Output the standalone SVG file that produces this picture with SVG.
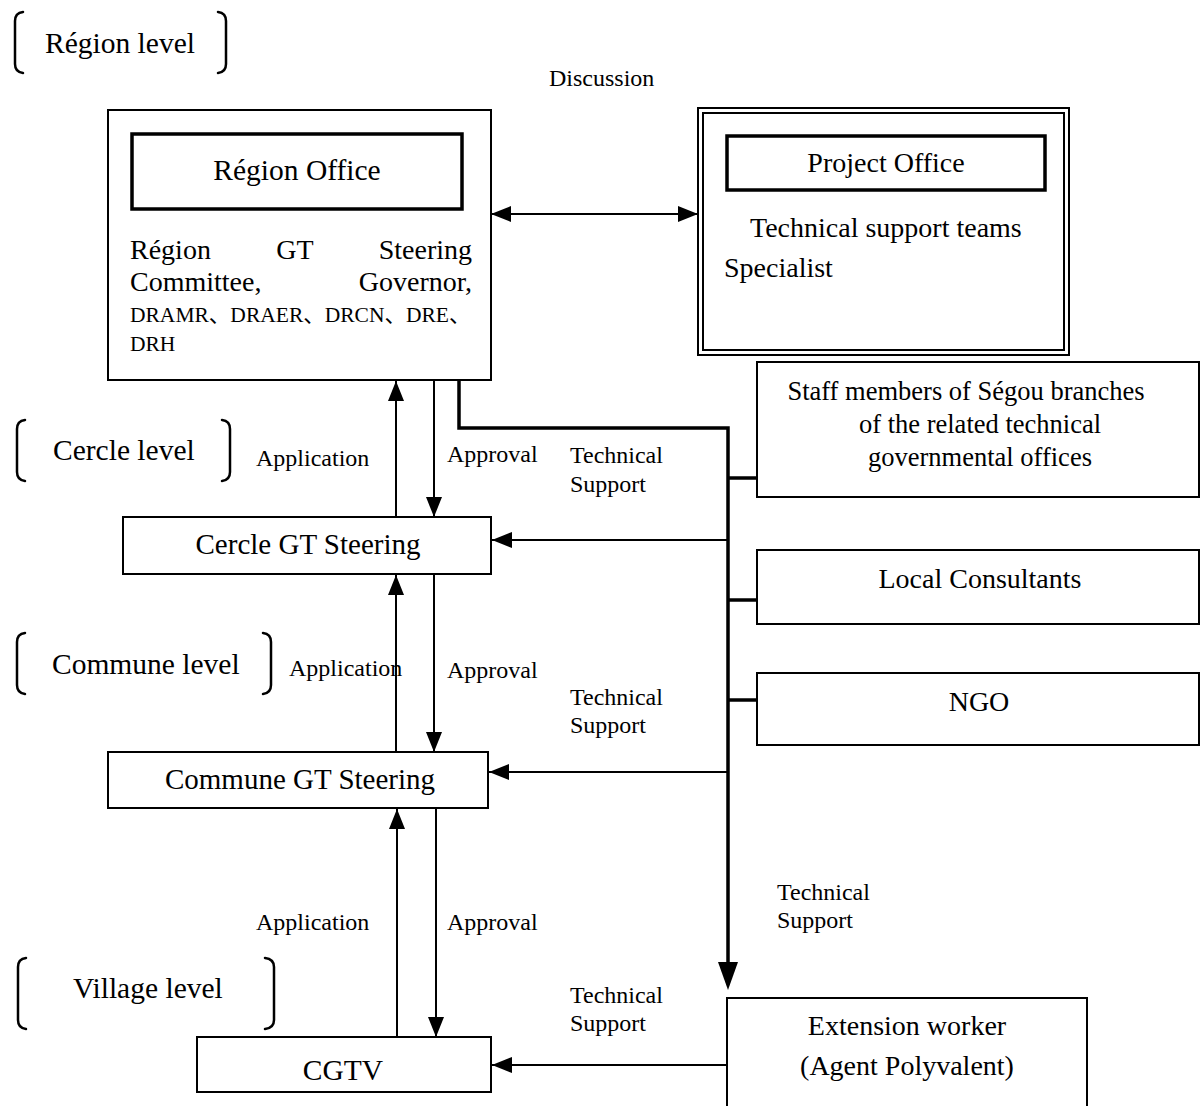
<svg xmlns="http://www.w3.org/2000/svg" width="1201" height="1106" viewBox="0 0 1201 1106">
  <style>
    text { font-family: "Liberation Serif", "Times New Roman", "Noto Sans CJK JP", serif; fill: #000; }
    .main { font-size: 28px; }
    .big { font-size: 29.5px; }
    .lbl { font-size: 24px; }
    .mid { text-anchor: middle; }
    .box { fill: #fff; stroke: #000; stroke-width: 2; }
    .thick { fill: #fff; stroke: #000; stroke-width: 3.5; }
    .brk { fill: none; stroke: #000; stroke-width: 2.5; stroke-linecap: round; }
    .thin { fill: none; stroke: #000; stroke-width: 2; }
    .bus { fill: none; stroke: #000; stroke-width: 3.5; }
  </style>
  <defs>
    <marker id="tri" viewBox="0 0 20 16" refX="20" refY="8" markerWidth="20" markerHeight="16" markerUnits="userSpaceOnUse" orient="auto-start-reverse">
      <path d="M0,0 L20,8 L0,16 Z" fill="#000"/>
    </marker>
  </defs>
  <rect width="1201" height="1106" fill="#fff"/>

  <!-- level brackets -->
  <g id="level-region">
    <path class="brk" d="M23,12 Q15,13 15,21 L15,64 Q15,72 23,73"/>
    <path class="brk" d="M218,12 Q226,13 226,21 L226,64 Q226,72 218,73"/>
    <text class="big" x="45" y="53">Région level</text>
  </g>
  <g id="level-cercle">
    <path class="brk" d="M25,420 Q17,421 17,429 L17,472 Q17,480 25,481"/>
    <path class="brk" d="M222,420 Q230,421 230,429 L230,472 Q230,480 222,481"/>
    <text class="big" x="53" y="460">Cercle level</text>
  </g>
  <g id="level-commune">
    <path class="brk" d="M25,633 Q17,634 17,642 L17,685 Q17,693 25,694"/>
    <path class="brk" d="M263,633 Q271,634 271,642 L271,685 Q271,693 263,694"/>
    <text class="big" x="52" y="674">Commune level</text>
  </g>
  <g id="level-village">
    <path class="brk" d="M26,958 Q18,959 18,967 L18,1020 Q18,1028 26,1029"/>
    <path class="brk" d="M265,958 Q274,959 274,967 L274,1020 Q274,1028 265,1029"/>
    <text class="big" x="73" y="998">Village level</text>
  </g>

  <!-- connectors -->
  <g id="connectors">
    <!-- discussion between region office and project office -->
    <line class="thin" x1="491" y1="214" x2="698" y2="214" marker-start="url(#tri)" marker-end="url(#tri)"/>
    <!-- application / approval: cercle <-> region -->
    <line class="thin" x1="396" y1="517" x2="396" y2="381" marker-end="url(#tri)"/>
    <line class="thin" x1="434" y1="380" x2="434" y2="517" marker-end="url(#tri)"/>
    <!-- commune <-> cercle -->
    <line class="thin" x1="396" y1="752" x2="396" y2="575" marker-end="url(#tri)"/>
    <line class="thin" x1="434" y1="574" x2="434" y2="752" marker-end="url(#tri)"/>
    <!-- village <-> commune -->
    <line class="thin" x1="397" y1="1037" x2="397" y2="809" marker-end="url(#tri)"/>
    <line class="thin" x1="436" y1="808" x2="436" y2="1037" marker-end="url(#tri)"/>
    <!-- technical support bus -->
    <path class="bus" d="M459,380 L459,428 L728,428 L728,968"/>
    <path d="M718,962 L738,962 L728,990 Z" fill="#000"/>
    <line class="bus" x1="728" y1="478" x2="757" y2="478"/>
    <line class="bus" x1="728" y1="600" x2="757" y2="600"/>
    <line class="bus" x1="728" y1="700" x2="757" y2="700"/>
    <!-- technical support to steering committees -->
    <line class="thin" x1="727" y1="540" x2="492" y2="540" marker-end="url(#tri)"/>
    <line class="thin" x1="727" y1="772" x2="489" y2="772" marker-end="url(#tri)"/>
    <line class="thin" x1="727" y1="1065" x2="492" y2="1065" marker-end="url(#tri)"/>
  </g>

  <!-- connector labels -->
  <g id="labels">
    <text class="lbl" x="549" y="86">Discussion</text>
    <text class="lbl" x="256" y="466">Application</text>
    <text class="lbl" x="447" y="462">Approval</text>
    <text class="lbl" x="570" y="463">Technical</text>
    <text class="lbl" x="570" y="492">Support</text>
    <text class="lbl" x="289" y="676">Application</text>
    <text class="lbl" x="447" y="678">Approval</text>
    <text class="lbl" x="570" y="705">Technical</text>
    <text class="lbl" x="570" y="733">Support</text>
    <text class="lbl" x="777" y="900">Technical</text>
    <text class="lbl" x="777" y="928">Support</text>
    <text class="lbl" x="256" y="930">Application</text>
    <text class="lbl" x="447" y="930">Approval</text>
    <text class="lbl" x="570" y="1003">Technical</text>
    <text class="lbl" x="570" y="1031">Support</text>
  </g>

  <!-- nodes -->
  <g id="region-office">
    <rect class="box" x="108" y="110" width="383" height="270"/>
    <rect class="thick" x="132" y="134" width="330" height="75"/>
    <text class="big mid" x="297" y="180">Région Office</text>
    <text class="main" x="130" y="259">Région</text>
    <text class="main mid" x="295" y="259">GT</text>
    <text class="main" x="472" y="259" text-anchor="end">Steering</text>
    <text class="main" x="130" y="291">Committee,</text>
    <text class="main" x="472" y="291" text-anchor="end">Governor,</text>
    <text x="130" y="322" font-size="21.5">DRAMR、DRAER、DRCN、DRE、</text>
    <text x="130" y="351" font-size="21.5">DRH</text>
  </g>

  <g id="project-office">
    <rect class="box" x="698" y="108" width="371" height="247"/>
    <rect class="box" x="703" y="113" width="361" height="237"/>
    <rect class="thick" x="727" y="136" width="318" height="54"/>
    <text class="main mid" x="886" y="172">Project Office</text>
    <text class="main" x="750" y="237">Technical support teams</text>
    <text class="main" x="724" y="277">Specialist</text>
  </g>

  <g id="staff-members">
    <rect class="box" x="757" y="362" width="442" height="135" stroke-width="3"/>
    <text class="mid" font-size="26.5" x="966" y="400">Staff members of Ségou branches</text>
    <text class="mid" font-size="26.5" x="980" y="433">of the related technical</text>
    <text class="mid" font-size="26.5" x="980" y="466">governmental offices</text>
  </g>

  <g id="local-consultants">
    <rect class="box" x="757" y="550" width="442" height="74" stroke-width="3"/>
    <text class="main mid" x="980" y="588">Local Consultants</text>
  </g>

  <g id="ngo">
    <rect class="box" x="757" y="673" width="442" height="72" stroke-width="3"/>
    <text class="main mid" x="979" y="711">NGO</text>
  </g>

  <g id="cercle-steering">
    <rect class="box" x="123" y="517" width="368" height="57"/>
    <text class="mid" font-size="29" x="308" y="554">Cercle GT Steering</text>
  </g>

  <g id="commune-steering">
    <rect class="box" x="108" y="752" width="380" height="56"/>
    <text class="mid" font-size="29" x="300" y="789">Commune GT Steering</text>
  </g>

  <g id="cgtv">
    <rect class="box" x="197" y="1037" width="294" height="55"/>
    <text class="big mid" x="343" y="1080">CGTV</text>
  </g>

  <g id="extension-worker">
    <rect class="box" x="727" y="998" width="360" height="120"/>
    <text class="main mid" x="907" y="1035">Extension worker</text>
    <text class="main mid" x="907" y="1075">(Agent Polyvalent)</text>
  </g>
</svg>
